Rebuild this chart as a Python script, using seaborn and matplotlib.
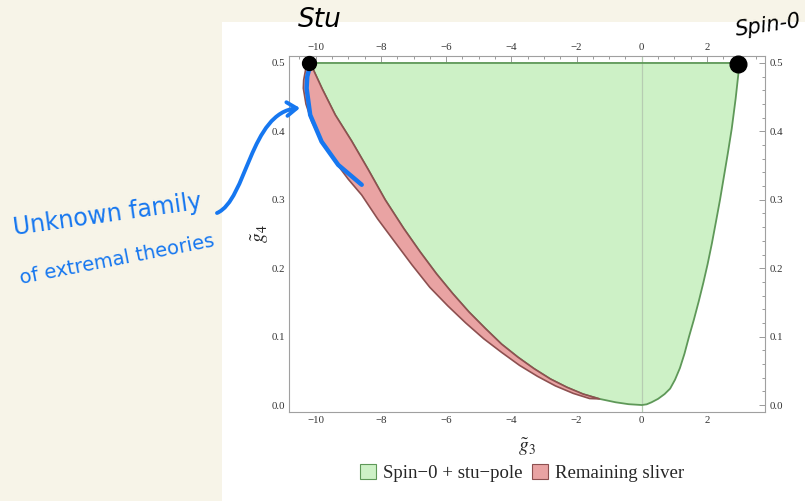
import matplotlib
matplotlib.use("Agg")
import matplotlib.pyplot as plt
import seaborn as sns
from matplotlib.patches import Patch, Rectangle, FancyArrowPatch
from matplotlib.path import Path
from matplotlib.ticker import MultipleLocator

# ---------------- data ----------------
# lower-left boundary of the green region, from the stu corner down to the origin
inner_g3 = [-10.17, -9.8, -9.4, -8.9, -8.4, -7.87, -7.3, -6.8, -6.3, -5.8, -5.3,
            -4.8, -4.3, -3.8, -3.3, -2.8, -2.3, -1.8, -1.3, -0.8, -0.4, 0.0]
inner_g4 = [0.500, 0.462, 0.424, 0.386, 0.345, 0.300, 0.258, 0.224, 0.192, 0.163, 0.136,
            0.112, 0.089, 0.070, 0.053, 0.038, 0.026, 0.016, 0.009, 0.004, 0.0012, 0.0]
# right boundary of the green region, from the origin up to the spin-0 corner
right_g3 = [0.0, 0.15, 0.3, 0.5, 0.7, 0.87, 1.02, 1.17, 1.31, 1.45, 1.6, 1.75, 1.89,
            2.02, 2.15, 2.28, 2.40, 2.52, 2.64, 2.76, 2.88, 3.0]
right_g4 = [0.0, 0.001, 0.004, 0.009, 0.016, 0.024, 0.037, 0.054, 0.075, 0.100, 0.125,
            0.152, 0.179, 0.206, 0.236, 0.269, 0.300, 0.334, 0.368, 0.404, 0.448, 0.500]
# outer edge of the remaining sliver, from the top down to where it closes
outer_g3 = [-10.17, -10.30, -10.37, -10.38, -10.30, -10.12, -9.80, -9.41, -9.00, -8.59,
            -8.10, -7.60, -7.05, -6.50, -5.95, -5.40, -4.85, -4.30, -3.75, -3.20, -2.65,
            -2.10, -1.60, -1.30]
outer_g4 = [0.500, 0.493, 0.475, 0.463, 0.440, 0.414, 0.385, 0.356, 0.330, 0.307,
            0.272, 0.240, 0.205, 0.172, 0.145, 0.120, 0.097, 0.077, 0.058, 0.042, 0.028,
            0.017, 0.0095, 0.009]
# hand-drawn extremal points and blue stroke
extremal_g3 = [-10.22, 2.95]
extremal_g4 = [0.500, 0.498]
stroke_g3 = [-10.17, -10.26, -10.28, -10.17, -9.82, -9.31, -8.59]
stroke_g4 = [0.497, 0.48, 0.463, 0.424, 0.385, 0.351, 0.322]
legend_labels = ["Spin\u22120 + stu\u2212pole", "Remaining sliver"]
x_label = r"$\tilde{g}_3$"
y_label = r"$\tilde{g}_4$"

# ---------------- style ----------------
GREEN_FILL = "#cdf1c6"
GREEN_EDGE = "#5e9858"
RED_FILL = "#e9a3a3"
RED_EDGE = "#8d5050"
BEIGE = "#f7f4e8"
BLUE = "#1677f0"

sns.set_style("white")
plt.rcParams["font.family"] = ["Liberation Serif", "DejaVu Serif"]
plt.rcParams["mathtext.fontset"] = "stix"
plt.rcParams["axes.unicode_minus"] = True

W, H = 805, 501
fig = plt.figure(figsize=(W / 100, H / 100), dpi=100, facecolor=BEIGE)
fig.add_artist(Rectangle((222 / W, 0), 1 - 222 / W, (H - 22) / H,
                         transform=fig.transFigure, facecolor="white",
                         edgecolor="none", zorder=-10))

L, R, T, B = 289, 765, 56, 412
ax = fig.add_axes([L / W, 1 - B / H, (R - L) / W, (B - T) / H])
ax.set_facecolor("white")

# green region
green_x = inner_g3 + right_g3[1:]
green_y = inner_g4 + right_g4[1:]
ax.fill(green_x, green_y, color=GREEN_FILL, lw=0, zorder=1)
ax.axvline(0, color="#b6ccb2", lw=0.9, zorder=1.5)
sns.lineplot(x=green_x + [green_x[0]], y=green_y + [green_y[0]], sort=False,
             estimator=None, color=GREEN_EDGE, lw=1.3, ax=ax, zorder=2, legend=False)

# red sliver
inner_part = [(g3, g4) for g3, g4 in zip(inner_g3, inner_g4) if g3 <= -1.3]
red_x = outer_g3 + [p[0] for p in inner_part][::-1]
red_y = outer_g4 + [p[1] for p in inner_part][::-1]
ax.fill(red_x, red_y, color=RED_FILL, lw=0, zorder=3)
sns.lineplot(x=red_x, y=red_y, sort=False, estimator=None, color=RED_EDGE,
             lw=1.2, ax=ax, zorder=4, legend=False)

# hand annotations in data space
sns.lineplot(x=stroke_g3, y=stroke_g4, sort=False, estimator=None, color=BLUE,
             lw=3.2, ax=ax, zorder=6, legend=False, solid_capstyle="round")
ax.plot(extremal_g3[:1], extremal_g4[:1], "o", color="black", ms=10, zorder=7, clip_on=False)
ax.plot(extremal_g3[1:], extremal_g4[1:], "o", color="black", ms=12, zorder=7, clip_on=False)

ax.set_xlim(-10.82, 3.78)
ax.set_ylim(-0.0102, 0.5102)
ax.xaxis.set_major_locator(MultipleLocator(2))
ax.xaxis.set_minor_locator(MultipleLocator(0.5))
ax.yaxis.set_major_locator(MultipleLocator(0.1))
ax.yaxis.set_minor_locator(MultipleLocator(0.02))
ax.tick_params(which="both", direction="in", top=True, right=True,
               labeltop=True, labelright=True, color="#9a9a9a", width=0.7,
               labelsize=7.8, labelcolor="#333333", pad=3)
ax.tick_params(which="major", length=4)
ax.tick_params(which="minor", length=2.3)
for s in ax.spines.values():
    s.set_color("#a0a0a0")
    s.set_linewidth(0.8)
ax.set_xlabel(x_label, fontsize=14, labelpad=8)
ax.set_ylabel(y_label, fontsize=14, labelpad=0)

handles = [Patch(facecolor=GREEN_FILL, edgecolor=GREEN_EDGE, lw=0.8),
           Patch(facecolor=RED_FILL, edgecolor=RED_EDGE, lw=0.8)]
fig.legend(handles, legend_labels, loc="center", bbox_to_anchor=(522 / W, 1 - 473 / H),
           ncol=2, frameon=False, prop={"family": "Liberation Serif", "size": 13.5},
           handlelength=0.85, handleheight=0.85, handletextpad=0.4, columnspacing=0.5)

# handwritten notes
fig.text(320 / W, 1 - 20 / H, "Stu", fontsize=19, color="black", ha="center", va="center",
         family="DejaVu Sans", style="italic")
fig.text(768 / W, 1 - 25 / H, "Spin-0", fontsize=15, color="black", ha="center", va="center",
         family="DejaVu Sans", style="italic", rotation=8)
fig.text(107 / W, 1 - 215 / H, "Unknown family", fontsize=17, color=BLUE, ha="center",
         va="center", family="DejaVu Sans", rotation=8)
fig.text(117 / W, 1 - 260 / H, "of extremal theories", fontsize=14, color=BLUE, ha="center",
         va="center", family="DejaVu Sans", rotation=11)

verts = [(217 / W, 1 - 213 / H), (247 / W, 1 - 200 / H), (250 / W, 1 - 112 / H),
         (300 / W, 1 - 108 / H)]
arrow = FancyArrowPatch(path=Path(verts, [Path.MOVETO, Path.CURVE4, Path.CURVE4, Path.CURVE4]),
                        arrowstyle="->,head_length=0.5,head_width=0.35", mutation_scale=14,
                        lw=2.8, color=BLUE, transform=fig.transFigure, zorder=8)
fig.add_artist(arrow)

fig.savefig("out.png", dpi=100, facecolor=BEIGE)
